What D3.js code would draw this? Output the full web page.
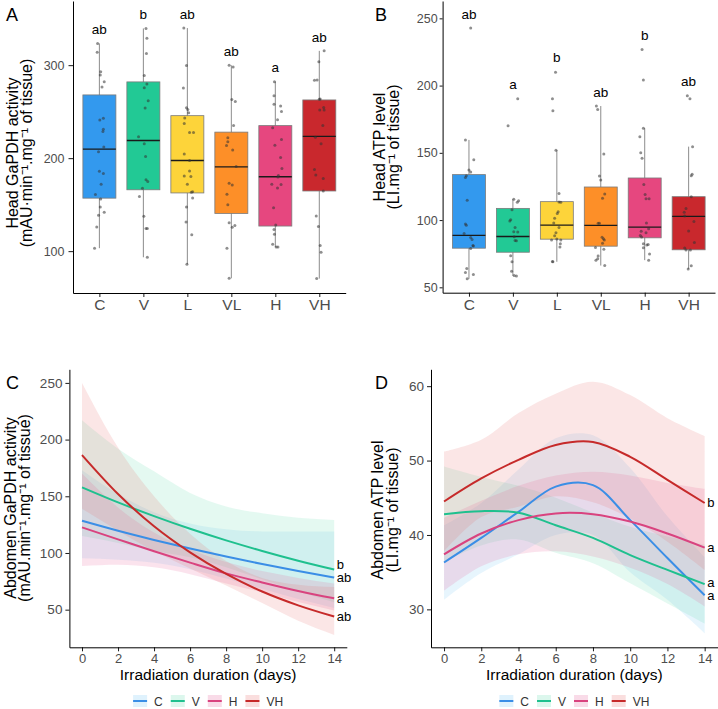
<!DOCTYPE html>
<html>
<head>
<meta charset="utf-8">
<script src="https://cdn.jsdelivr.net/npm/d3@7"></script>
<style>
  body { margin: 0; background: #fff; }
  text { font-family: "Liberation Sans", Arial, sans-serif; }
</style>
</head>
<body>
<svg id="chart" width="718" height="709"></svg>
<script>
// ── Data ───────────────────────────────────────────────────────────────────
const cats = ['C', 'V', 'L', 'VL', 'H', 'VH'];
const boxColors = ['#3399ee', '#22c995', '#fdd43a', '#fd8f28', '#e6477f', '#c9282d'];

// Panel A: head GaPDH activity (box stats)
const gapdhHeadQ1 = [157, 166, 162.6, 140.6, 127, 164.7];
const gapdhHeadMed = [209.7, 219, 197.5, 190.6, 180, 223.4];
const gapdhHeadQ3 = [268, 282, 245.7, 228, 235, 262.6];
const gapdhHeadLo = [103.2, 93.4, 85.9, 70.8, 104.6, 70.5];
const gapdhHeadHi = [323.3, 339.5, 339.9, 299.9, 282.3, 315.4];
const gapdhHeadLetters = ['ab', 'b', 'ab', 'ab', 'a', 'ab'];
const gapdhHeadLetterY = [333.5, 349.7, 349.7, 309.4, 292.8, 325.2];
// points: [value, jitter in category widths]
const gapdhHeadPts = [
  [[323.3,-0.04],[314,-0.05],[293,0.03],[289.5,0.02],[282.3,0.11],[276.5,0.06],[241,0.01],[243,0.09],[231,0.09],[228.7,0.08],[212,0.10],[207,-0.02],[186,0],[183.4,0.09],[172,0.04],[160.8,-0.09],[156,0.03],[147.4,0.02],[141.7,0.11],[138.5,-0.02],[125.9,-0.06],[103.2,-0.11]],
  [[339.5,0.06],[329,0.08],[312.5,0.07],[288.8,0.02],[279.8,0.08],[275.8,0.02],[261.8,0.11],[253.9,0.04],[223,-0.11],[215.4,0.02],[201.8,0.05],[176.9,0.06],[174.8,0.10],[167.6,-0.02],[158.9,-0.09],[137.4,0.01],[124.4,0.06],[124.4,0.09],[93.4,0.09]],
  [[339.9,-0.08],[299.6,-0.02],[275.5,-0.09],[254.3,-0.02],[252.4,0.01],[248.9,0.03],[243.1,-0.06],[237.4,-0.07],[227.6,0.05],[227.6,0.14],[204.6,-0.07],[197.4,0.05],[186.3,0.05],[180.9,-0.07],[180.2,0.08],[171.9,0],[164,0.12],[163.3,0.09],[157.2,0.12],[147.4,-0.02],[131.3,-0.03],[117.6,0.10],[85.9,-0.01]],
  [[299.9,-0.05],[298.1,0.04],[263.2,0.01],[260.8,0.09],[235.2,0.05],[221.9,-0.08],[217.6,-0.08],[213.6,-0.11],[208.9,0.03],[191,0.11],[173,-0.05],[171.2,0.02],[161.1,-0.10],[149.9,-0.08],[130.5,-0.05],[125.8,0.02],[127.6,0.08],[103.2,-0.10],[70.8,-0.05]],
  [[282.3,-0.02],[267.2,-0.03],[256.1,0.12],[257.9,-0.03],[250.3,0.14],[241.3,0.05],[232.7,-0.06],[220.1,0.14],[214,-0.01],[200.7,0.12],[188.8,0.15],[181.3,0.07],[179.8,0.06],[171.9,-0.08],[171.6,0.13],[168,0.05],[146.7,-0.04],[128,0.01],[123.3,-0.03],[118.3,-0.02],[107.5,-0.06],[104.6,0.02],[104.6,0.06]],
  [[315.4,0.11],[303.6,-0.01],[283.8,-0.11],[284.1,-0.05],[263.6,0.02],[263.3,0],[251.8,0.01],[254.6,0.10],[251.8,0.11],[235.2,0.08],[222.6,-0.09],[215.4,0.04],[187.7,-0.11],[182,-0.08],[178,0.09],[164.7,0.09],[137.7,-0.07],[126.6,-0.02],[106.1,0.02],[98.9,0.04],[70.5,-0.06]]
];

// Panel B: head ATP level
const atpHeadQ1 = [79.1, 76.1, 85.8, 80.6, 86.8, 77.9];
const atpHeadMed = [88.6, 87.8, 96.3, 96, 94.8, 102.7];
const atpHeadQ3 = [133.8, 108.7, 113.7, 124.6, 131.3, 117.4];
const atpHeadLo = [56.3, 58.5, 69, 66.2, 70.2, 63.7];
const atpHeadHi = [159.6, 115.5, 151.9, 184.8, 168.3, 154.6];
const atpHeadLetters = ['ab', 'a', 'b', 'ab', 'b', 'ab'];
const atpHeadLetterY = [249.5, 197.2, 217.2, 191.5, 234, 199.7];
const atpHeadPts = [
  [[242.8,0.04],[159.6,-0.08],[144.9,0.11],[137.2,0],[135.7,0.04],[133,-0.06],[131.7,-0.08],[114.8,-0.04],[97.1,-0.08],[96.1,-0.06],[90.1,-0.11],[87.1,0.04],[85.6,0.07],[81.1,0.09],[80.7,0.10],[78.9,0.04],[64,-0.05],[61,-0.08],[59.5,0.10],[56.3,-0.04]],
  [[190.2,0.11],[170.1,-0.11],[115.5,0.02],[114.3,0.13],[113.3,0.10],[107.6,-0.02],[100.3,-0.05],[99.4,-0.07],[94.4,0.05],[91.4,0.02],[91.1,0.11],[87.6,0.03],[84.9,0.05],[84.7,0.08],[73.5,-0.05],[69,-0.02],[62,-0.03],[58.8,0.03],[58.5,0.08]],
  [[209.9,-0.03],[190.2,-0.10],[181.3,-0.09],[151.9,-0.02],[119.8,0.05],[113.5,0.05],[113.3,0.09],[106.1,0.03],[104.8,0.01],[101.3,-0.05],[97.9,-0.07],[94.4,0.05],[90.6,-0.02],[88.4,-0.05],[85.9,0],[85.2,-0.12],[85.2,0.09],[82.4,0.08],[80,0.07],[69.2,-0.10],[69,-0.09]],
  [[184.8,-0.10],[182.3,-0.07],[149.2,0.07],[132.7,-0.03],[129.8,0],[119.3,0.09],[116.3,0.04],[97.6,-0.06],[97.6,-0.03],[87.2,0.03],[86.2,0.06],[85.2,0.08],[82.7,0.04],[79.7,-0.12],[78.4,0.07],[73.2,-0.06],[70.2,-0.11],[71.2,-0.07],[66.2,0.09]],
  [[226.8,-0.06],[204.2,-0.03],[168.3,-0.03],[161.9,-0.11],[150.1,-0.09],[145.9,-0.06],[126.5,-0.02],[119,0.01],[115.8,0.03],[115.8,0.10],[97.9,0.04],[93.6,0.09],[91.6,-0.08],[90.6,0.03],[88.6,-0.10],[87.4,-0.07],[82.4,-0.03],[81.4,0.05],[81.9,0.08],[79.4,-0.03],[74.7,0.11],[70.2,0.09]],
  [[192.5,-0.03],[190.2,0.03],[154.6,0.09],[134,0.08],[133,0.06],[117.3,0.06],[108.6,-0.06],[105.8,-0.10],[103.1,-0.09],[98.9,0.12],[91.9,0],[83.4,0.13],[79.2,-0.09],[77.7,-0.06],[77.7,0.04],[66,0.06],[63.7,-0.01]]
];

// Panels C & D: fitted curves over irradiation duration
const groups = ['C', 'V', 'H', 'VH'];
const lineColors = ['#3a8ee6', '#1fc08e', '#d9437f', '#c62a2a'];
const ribbonColors = ['#6ec6f5', '#5fdcac', '#e55a94', '#ea6a6a'];
const days = [0, 2, 4, 6, 8, 10, 12, 14];

// C: abdomen GaPDH activity
const gapdhAbdC = [128.4, 119.6, 111.5, 103.9, 96.8, 90.2, 84.1, 78.3];
const gapdhAbdCLo = [95.3, 94.1, 91.4, 85.7, 77.4, 68.4, 59.4, 51.5];
const gapdhAbdCHi = [173, 152, 136, 126, 121, 119, 119, 119];
const gapdhAbdV = [157.9, 144.6, 132.5, 121.3, 111.1, 101.8, 93.2, 85.4];
const gapdhAbdVLo = [114.9, 108.9, 102, 96.2, 87.5, 76.8, 66.3, 56.5];
const gapdhAbdVHi = [217, 192, 172, 153, 141, 135, 131, 129];
const gapdhAbdH = [122.6, 112, 101.5, 91.5, 82, 74, 66.5, 60];
const gapdhAbdHLo = [88.4, 89.6, 87.3, 81.3, 73.1, 65.2, 56.7, 49.3];
const gapdhAbdHHi = [170, 140, 118, 103, 92, 84, 78, 73];
const gapdhAbdVH = [186.4, 152, 123.5, 100.5, 81.5, 66, 53.8, 43.9];
const gapdhAbdVHLo = [139, 119.7, 101.7, 86.3, 71.4, 55.8, 40.2, 27.7];
const gapdhAbdVHHi = [250, 193, 150, 117, 93, 78, 72, 70];
const gapdhAbdLetters = ['ab', 'b', 'a', 'ab'];

// D: abdomen ATP level
const atpAbdC = [36.3, 39.6, 43.1, 46.5, 46.7, 42.0, 36.9, 31.9];
const atpAbdCLo = [31.3, 34.9, 37.4, 40.0, 40.0, 35.0, 31.3, 26.8];
const atpAbdCHi = [41.3, 44.3, 48.8, 53.0, 53.4, 49.0, 42.5, 37.0];
const atpAbdV = [42.8, 43.2, 43.0, 41.3, 39.6, 37.3, 35.3, 33.4];
const atpAbdVLo = [36.4, 38.6, 39.4, 37.6, 36.2, 33.5, 30.8, 28.1];
const atpAbdVHi = [49.2, 47.8, 46.6, 45.0, 43.0, 41.1, 39.8, 38.7];
const atpAbdH = [37.4, 40.2, 42.0, 42.9, 42.8, 41.8, 40.2, 38.3];
const atpAbdHLo = [32.5, 35.8, 37.4, 37.8, 37.1, 35.6, 33.4, 30.4];
const atpAbdHHi = [42.3, 44.6, 46.6, 48.0, 48.5, 48.0, 47.0, 46.2];
const atpAbdVH = [44.5, 47.6, 50.1, 52.1, 52.5, 50.5, 47.4, 44.3];
const atpAbdVHLo = [37.8, 42.4, 43.8, 45.2, 44.4, 42.2, 39.1, 35.3];
const atpAbdVHHi = [51.2, 52.8, 56.4, 59.0, 60.6, 58.8, 55.7, 53.3];
const atpAbdLetters = ['a', 'a', 'a', 'b'];

// ── Drawing ────────────────────────────────────────────────────────────────
const svg = d3.select('#chart');
svg.append('rect').attr('width', 718).attr('height', 709).attr('fill', '#fff');

function styleAxis(ax, size) {
  ax.select('.domain').attr('stroke', '#000').attr('stroke-width', 1);
  ax.selectAll('.tick line').attr('stroke', '#000').attr('stroke-width', 0.9);
  ax.selectAll('.tick text').attr('fill', '#4d4d4d').style('font-size', size + 'px');
}

function yTitle(lines, xs, cy) {
  lines.forEach((t, i) => {
    svg.append('text')
      .attr('transform', `translate(${xs[i]},${cy}) rotate(-90)`)
      .attr('text-anchor', 'middle')
      .attr('dominant-baseline', 'central')
      .style('font-size', '16px')
      .attr('fill', '#000')
      .text(t);
  });
}

function panelLabel(t, x, y) {
  svg.append('text').attr('x', x).attr('y', y)
    .style('font-size', '18px').attr('fill', '#000').text(t);
}

function drawBoxPanel(cfg) {
  const g = svg.append('g');
  const x = d3.scalePoint().domain(cats).range(cfg.xRange).padding(0.6);
  const y = d3.scaleLinear().domain(cfg.yDomain).range(cfg.yRange);
  const bw = x.step() * 0.75;

  cats.forEach((c, i) => {
    const cx = x(c);
    g.append('line')
      .attr('x1', cx).attr('x2', cx)
      .attr('y1', y(cfg.lo[i])).attr('y2', y(cfg.hi[i]))
      .attr('stroke', '#6e6e6e').attr('stroke-width', 0.8);
    g.append('rect')
      .attr('x', cx - bw / 2).attr('width', bw)
      .attr('y', y(cfg.q3[i])).attr('height', y(cfg.q1[i]) - y(cfg.q3[i]))
      .attr('fill', boxColors[i])
      .attr('stroke', '#7a7a7a').attr('stroke-width', 0.8);
    g.append('line')
      .attr('x1', cx - bw / 2).attr('x2', cx + bw / 2)
      .attr('y1', y(cfg.med[i])).attr('y2', y(cfg.med[i]))
      .attr('stroke', '#1a1a1a').attr('stroke-width', 1.3);

    g.selectAll(null)
      .data(cfg.pts[i])
      .join('circle')
      .attr('cx', d => cx + d[1] * x.step())
      .attr('cy', d => y(d[0]))
      .attr('r', 1.5)
      .attr('fill', '#333')
      .attr('opacity', 0.55);

    g.append('text')
      .attr('x', cx).attr('y', y(cfg.letterY[i]))
      .attr('text-anchor', 'middle')
      .style('font-size', '13.5px')
      .attr('fill', '#000')
      .text(cfg.letters[i]);
  });

  const ay = g.append('g')
    .attr('transform', `translate(${cfg.xRange[0]},0)`)
    .call(d3.axisLeft(y).tickValues(cfg.ticks).tickSize(cfg.tick).tickSizeOuter(0).tickPadding(cfg.pad));
  styleAxis(ay, 12.5);

  const ax = g.append('g')
    .attr('transform', `translate(0,${cfg.yRange[0]})`)
    .call(d3.axisBottom(x).tickSize(4).tickSizeOuter(0).tickPadding(2));
  styleAxis(ax, 15.5);
}

function drawLinePanel(cfg) {
  const g = svg.append('g');
  const x = d3.scaleLinear().domain([-0.7, 14.7]).range(cfg.xRange);
  const y = d3.scaleLinear().domain(cfg.yDomain).range([647.3, 369.3]);

  const series = groups.map((grp, i) => ({
    grp, i,
    pts: days.map((d, k) => ({ day: d, m: cfg.mean[i][k], lo: cfg.lo[i][k], hi: cfg.hi[i][k] }))
  }));

  const area = d3.area().x(d => x(d.day)).y0(d => y(d.lo)).y1(d => y(d.hi)).curve(cfg.curve);
  const line = d3.line().x(d => x(d.day)).y(d => y(d.m)).curve(cfg.curve);

  g.selectAll('.band').data(series).join('path')
    .attr('d', s => area(s.pts))
    .attr('fill', s => ribbonColors[s.i])
    .attr('fill-opacity', 0.17);

  g.selectAll('.fit').data(series).join('path')
    .attr('d', s => line(s.pts))
    .attr('fill', 'none')
    .attr('stroke', s => lineColors[s.i])
    .attr('stroke-width', 2);

  // end labels, pushed apart a little when they crowd (like a repel)
  const labs = series.map(s => ({ t: cfg.letters[s.i], y: y(s.pts[s.pts.length - 1].m) }))
    .sort((a, b) => a.y - b.y);
  for (let k = labs.length - 2; k >= 0; k--) {
    if (labs[k + 1].y - labs[k].y < 13) labs[k].y = labs[k + 1].y - 13;
  }
  g.selectAll('.endlab').data(labs).join('text')
    .attr('x', x(14) + 2.5)
    .attr('y', d => d.y)
    .attr('dominant-baseline', 'central')
    .style('font-size', '13px')
    .attr('fill', '#000')
    .text(d => d.t);

  const ay = g.append('g')
    .attr('transform', `translate(${cfg.xRange[0]},0)`)
    .call(d3.axisLeft(y).tickValues(cfg.ticks).tickSize(4).tickSizeOuter(0).tickPadding(3));
  styleAxis(ay, 13.5);

  const ax = g.append('g')
    .attr('transform', 'translate(0,647.3)')
    .call(d3.axisBottom(x).tickValues(d3.range(0, 15, 2)).tickSize(4).tickSizeOuter(0).tickPadding(2.5));
  styleAxis(ax, 13);

  const cx = (cfg.xRange[0] + cfg.xRange[1]) / 2;
  g.append('text')
    .attr('x', cx).attr('y', 679.5)
    .attr('text-anchor', 'middle')
    .style('font-size', '15.5px')
    .attr('fill', '#000')
    .text('Irradiation duration (days)');

  // legend
  const leg = g.append('g');
  let off = 0;
  groups.forEach((grp, i) => {
    const it = leg.append('g').attr('transform', `translate(${off},0)`);
    it.append('rect').attr('x', 0).attr('y', 695).attr('width', 14).attr('height', 12)
      .attr('fill', ribbonColors[i]).attr('fill-opacity', 0.22);
    it.append('line').attr('x1', 0).attr('x2', 14).attr('y1', 701).attr('y2', 701)
      .attr('stroke', lineColors[i]).attr('stroke-width', 2);
    const t = it.append('text').attr('x', 21).attr('y', 705.5)
      .style('font-size', '12px').attr('fill', '#333').text(grp);
    off += 21 + t.node().getComputedTextLength() + 8;
  });
  const lw = off - 8;
  leg.attr('transform', `translate(${cx - lw / 2},0)`);
}

// Panel A
drawBoxPanel({
  xRange: [73, 345.7], yDomain: [55, 369], yRange: [293, 1],
  q1: gapdhHeadQ1, med: gapdhHeadMed, q3: gapdhHeadQ3, lo: gapdhHeadLo, hi: gapdhHeadHi,
  pts: gapdhHeadPts, letters: gapdhHeadLetters, letterY: gapdhHeadLetterY,
  ticks: [100, 200, 300], tick: 4.5, pad: 4
});
yTitle(['Head GaPDH activity', '(mAU\u00b7min\u207b\u00b9.mg\u207b\u00b9 of tissue)'], [12, 26.5], 153);
panelLabel('A', 6, 21);

// Panel B
drawBoxPanel({
  xRange: [442.6, 715], yDomain: [46, 262.9], yRange: [292.7, 1],
  q1: atpHeadQ1, med: atpHeadMed, q3: atpHeadQ3, lo: atpHeadLo, hi: atpHeadHi,
  pts: atpHeadPts, letters: atpHeadLetters, letterY: atpHeadLetterY,
  ticks: [50, 100, 150, 200, 250], tick: 3, pad: 2
});
yTitle(['Head ATP level', '(LI.mg\u207b\u00b9 of tissue)'], [379.5, 393.5], 147);
panelLabel('B', 375, 21);

// Panel C
drawLinePanel({
  xRange: [69.4, 346.8], yDomain: [16.8, 262],
  mean: [gapdhAbdC, gapdhAbdV, gapdhAbdH, gapdhAbdVH],
  lo: [gapdhAbdCLo, gapdhAbdVLo, gapdhAbdHLo, gapdhAbdVHLo],
  hi: [gapdhAbdCHi, gapdhAbdVHi, gapdhAbdHHi, gapdhAbdVHHi],
  letters: gapdhAbdLetters, ticks: [50, 100, 150, 200, 250],
  curve: d3.curveMonotoneX
});
yTitle(['Abdomen GaPDH activity', '(mAU.min\u207b\u00b9.mg\u207b\u00b9 of tissue)'], [10, 24], 508);
panelLabel('C', 6, 389);

// Panel D
drawLinePanel({
  xRange: [431, 717.7], yDomain: [24.9, 62.27],
  mean: [atpAbdC, atpAbdV, atpAbdH, atpAbdVH],
  lo: [atpAbdCLo, atpAbdVLo, atpAbdHLo, atpAbdVHLo],
  hi: [atpAbdCHi, atpAbdVHi, atpAbdHHi, atpAbdVHHi],
  letters: atpAbdLetters, ticks: [30, 40, 50, 60],
  curve: d3.curveCatmullRom.alpha(0.5)
});
yTitle(['Abdomen ATP level', '(LI.mg\u207b\u00b9 of tissue)'], [377.3, 392.5], 510);
panelLabel('D', 375, 389);
</script>
</body>
</html>
